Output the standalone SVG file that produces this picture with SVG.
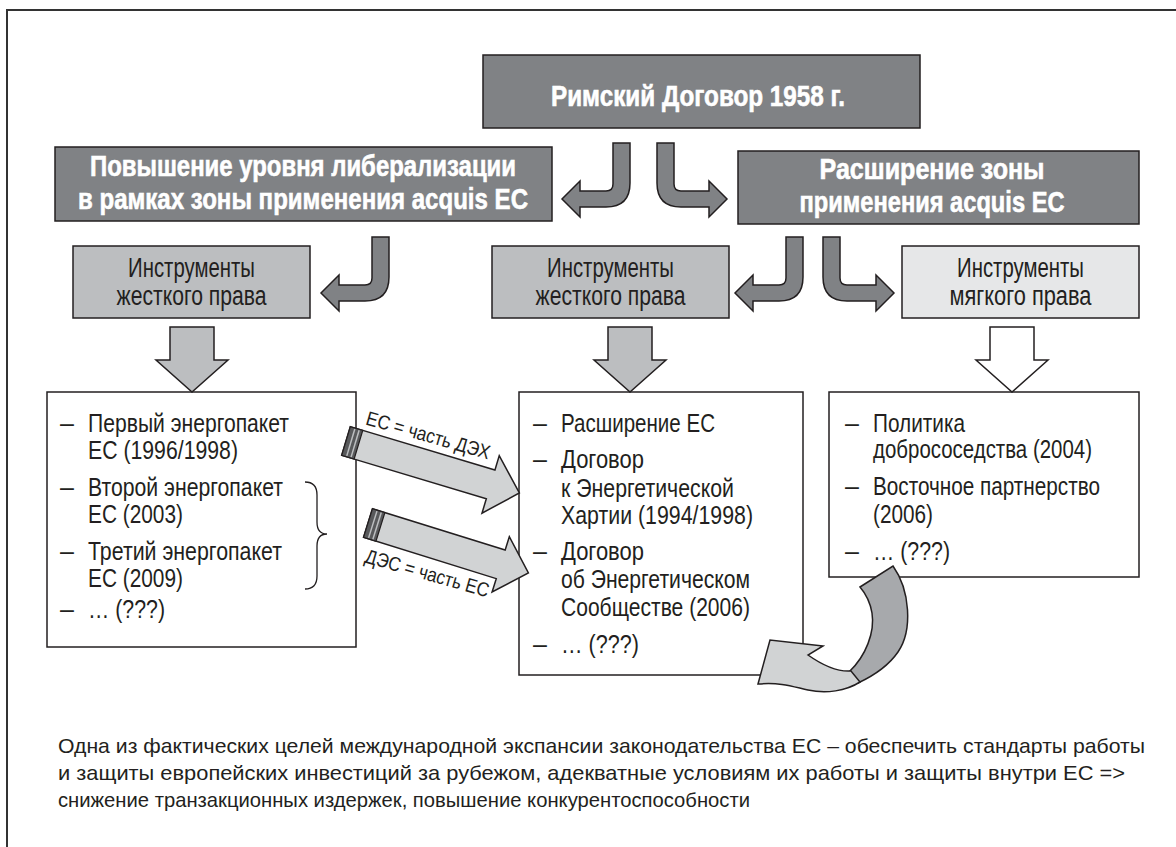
<svg xmlns="http://www.w3.org/2000/svg" width="1176" height="847" viewBox="0 0 1176 847">
<style>
.dark{fill:#808285;stroke:#231f20;stroke-width:1.5}
.gray{fill:#bcbec0;stroke:#231f20;stroke-width:1.5}
.light{fill:#e6e7e8;stroke:#231f20;stroke-width:1.5}
.white{fill:#ffffff;stroke:#231f20;stroke-width:1.5}
.arr{stroke:#231f20;stroke-width:1.5;stroke-linejoin:miter}
.hd{font-family:"Liberation Sans Narrow","Liberation Sans",Arial,sans-serif;font-weight:bold;font-size:29px;fill:#ffffff;stroke:#ffffff;stroke-width:0.6;text-anchor:middle}
.lb{font-family:"Liberation Sans Narrow","Liberation Sans",Arial,sans-serif;font-size:27px;fill:#231f20;text-anchor:middle}
.it{font-family:"Liberation Sans Narrow","Liberation Sans",Arial,sans-serif;font-size:25px;fill:#231f20}
.ft{font-family:"Liberation Sans Narrow","Liberation Sans",Arial,sans-serif;font-size:21px;fill:#231f20}
.al{font-family:"Liberation Sans Narrow","Liberation Sans",Arial,sans-serif;font-size:20px;fill:#231f20;text-anchor:middle}
</style>
<rect x="0" y="0" width="1176" height="847" fill="#ffffff"/>
<g id="frame" fill="none" stroke="#333333" stroke-width="2">
<line x1="6" y1="10" x2="1176" y2="10"/>
<line x1="7" y1="10" x2="7" y2="847"/>
</g>

<g id="n-rome">
<rect class="dark" x="483" y="55" width="437" height="73"/>
<text class="hd" x="698" y="106" textLength="294" lengthAdjust="spacingAndGlyphs">Римский Договор 1958 г.</text>
</g>
<g id="n-liberalization">
<rect class="dark" x="55" y="147" width="497" height="74"/>
<text class="hd" x="303" y="176" textLength="426" lengthAdjust="spacingAndGlyphs">Повышение уровня либерализации</text>
<text class="hd" x="303" y="209" textLength="450" lengthAdjust="spacingAndGlyphs">в рамках зоны применения acquis EC</text>
</g>
<g id="n-expansion">
<rect class="dark" x="738" y="151" width="401" height="73"/>
<text class="hd" x="932" y="179" textLength="225" lengthAdjust="spacingAndGlyphs">Расширение зоны</text>
<text class="hd" x="932" y="212" textLength="265" lengthAdjust="spacingAndGlyphs">применения acquis EC</text>
</g>
<g id="n-hard-left">
<rect class="gray" x="73" y="246" width="237" height="72"/>
<text class="lb" x="191.5" y="277" textLength="127" lengthAdjust="spacingAndGlyphs">Инструменты</text>
<text class="lb" x="191.5" y="305" textLength="150" lengthAdjust="spacingAndGlyphs">жесткого права</text>
</g>
<g id="n-hard-mid">
<rect class="gray" x="492" y="246" width="237" height="72"/>
<text class="lb" x="610.5" y="277" textLength="127" lengthAdjust="spacingAndGlyphs">Инструменты</text>
<text class="lb" x="610.5" y="305" textLength="150" lengthAdjust="spacingAndGlyphs">жесткого права</text>
</g>
<g id="n-soft">
<rect class="light" x="902" y="246" width="237" height="72"/>
<text class="lb" x="1020.5" y="277" textLength="127" lengthAdjust="spacingAndGlyphs">Инструменты</text>
<text class="lb" x="1020.5" y="305" textLength="142" lengthAdjust="spacingAndGlyphs">мягкого права</text>
</g>
<g id="n-list-left">
<rect class="white" x="47" y="392" width="309" height="255"/>
<path d="M305,482 C314,482 317,487 317,495 L317,522 C317,530 320,534 327,534 C320,534 317,538 317,546 L317,576 C317,584 314,589 305,589" fill="none" stroke="#231f20" stroke-width="1.3"/>
<text class="it" x="60" y="432">–</text>
<text class="it" x="88" y="432" textLength="201" lengthAdjust="spacingAndGlyphs">Первый энергопакет</text>
<text class="it" x="88" y="459" textLength="150" lengthAdjust="spacingAndGlyphs">ЕС (1996/1998)</text>
<text class="it" x="60" y="496">–</text>
<text class="it" x="88" y="496" textLength="195" lengthAdjust="spacingAndGlyphs">Второй энергопакет</text>
<text class="it" x="88" y="523" textLength="95" lengthAdjust="spacingAndGlyphs">ЕС (2003)</text>
<text class="it" x="60" y="560">–</text>
<text class="it" x="88" y="560" textLength="194" lengthAdjust="spacingAndGlyphs">Третий энергопакет</text>
<text class="it" x="88" y="587" textLength="95" lengthAdjust="spacingAndGlyphs">ЕС (2009)</text>
<text class="it" x="60" y="618">–</text>
<text class="it" x="88" y="618" textLength="77" lengthAdjust="spacingAndGlyphs">… (???)</text>
</g>
<g id="n-list-mid">
<rect class="white" x="519" y="392" width="284" height="283"/>
<text class="it" x="533" y="432">–</text>
<text class="it" x="561" y="432" textLength="154" lengthAdjust="spacingAndGlyphs">Расширение ЕС</text>
<text class="it" x="533" y="468">–</text>
<text class="it" x="561" y="468" textLength="83" lengthAdjust="spacingAndGlyphs">Договор</text>
<text class="it" x="561" y="497" textLength="173" lengthAdjust="spacingAndGlyphs">к Энергетической</text>
<text class="it" x="561" y="524" textLength="192" lengthAdjust="spacingAndGlyphs">Хартии (1994/1998)</text>
<text class="it" x="533" y="560">–</text>
<text class="it" x="561" y="560" textLength="83" lengthAdjust="spacingAndGlyphs">Договор</text>
<text class="it" x="561" y="588" textLength="189" lengthAdjust="spacingAndGlyphs">об Энергетическом</text>
<text class="it" x="561" y="616" textLength="189" lengthAdjust="spacingAndGlyphs">Сообществе (2006)</text>
<text class="it" x="533" y="653">–</text>
<text class="it" x="561" y="653" textLength="78" lengthAdjust="spacingAndGlyphs">… (???)</text>
</g>
<g id="n-list-right">
<rect class="white" x="829" y="392" width="310" height="185"/>
<text class="it" x="845" y="432">–</text>
<text class="it" x="873" y="432" textLength="92" lengthAdjust="spacingAndGlyphs">Политика</text>
<text class="it" x="873" y="458" textLength="219" lengthAdjust="spacingAndGlyphs">добрососедства (2004)</text>
<text class="it" x="845" y="495">–</text>
<text class="it" x="873" y="495" textLength="227" lengthAdjust="spacingAndGlyphs">Восточное партнерство</text>
<text class="it" x="873" y="523" textLength="60" lengthAdjust="spacingAndGlyphs">(2006)</text>
<text class="it" x="845" y="560">–</text>
<text class="it" x="873" y="560" textLength="77" lengthAdjust="spacingAndGlyphs">… (???)</text>
</g>

<g id="connectors">
<path class="arr" fill="#808285" d="M613,143 H630 V183 Q630,207 606,207 H580 V217 L562,199 L580,181 V191 H606 Q613,191 613,184 V143 Z"/>
<path class="arr" fill="#808285" d="M674,143 H657 V183 Q657,207 681,207 H709 V217 L727,199 L709,181 V191 H681 Q674,191 674,184 V143 Z"/>
<path class="arr" fill="#808285" d="M372,237 H389 V277 Q389,301 365,301 H339 V311 L321,293 L339,275 V285 H365 Q372,285 372,278 V237 Z"/>
<path class="arr" fill="#808285" d="M786,237 H803 V277 Q803,301 779,301 H753 V311 L735,293 L753,275 V285 H779 Q786,285 786,278 V237 Z"/>
<path class="arr" fill="#808285" d="M840,237 H823 V277 Q823,301 847,301 H876 V311 L894,293 L876,275 V285 H847 Q840,285 840,278 V237 Z"/>
<path class="arr" fill="#bcbec0" d="M170,327 H214 V360 H228 L192,392 L156,360 H170 Z"/>
<path class="arr" fill="#bcbec0" d="M608,327 H652 V360 H666 L630,392 L594,360 H608 Z"/>
<path class="arr" fill="#ffffff" d="M990,327 H1034 V360 H1048 L1012,392 L976,360 H990 Z"/>
<g transform="translate(346,441) rotate(16.7)">
<path class="arr" fill="#d1d3d4" d="M0,-15 H151 V-30 L181,0 L151,30 V15 H0 Z"/>
<rect x="0" y="-15" width="13" height="30" fill="#58595b" stroke="#231f20" stroke-width="1.2"/>
<line x1="5" y1="-14" x2="5" y2="14" stroke="#bcbec0" stroke-width="1.5"/>
<line x1="9.5" y1="-14" x2="9.5" y2="14" stroke="#bcbec0" stroke-width="1.5"/>
</g>
<g transform="translate(368,523) rotate(17.3)">
<path class="arr" fill="#d1d3d4" d="M0,-15 H139 V-29 L168,0 L139,29 V15 H0 Z"/>
<rect x="0" y="-15" width="13" height="30" fill="#58595b" stroke="#231f20" stroke-width="1.2"/>
<line x1="5" y1="-14" x2="5" y2="14" stroke="#bcbec0" stroke-width="1.5"/>
<line x1="9.5" y1="-14" x2="9.5" y2="14" stroke="#bcbec0" stroke-width="1.5"/>
</g>
<text class="al" transform="translate(428,436) rotate(16)" x="0" y="6" textLength="128" lengthAdjust="spacingAndGlyphs">ЕС = часть ДЭХ</text>
<text class="al" transform="translate(427,574) rotate(16)" x="0" y="6" textLength="128" lengthAdjust="spacingAndGlyphs">ДЭС = часть ЕС</text>
<path class="arr" fill="#a7a9ac" d="M860,587 L893,566 C910,590 913,630 898,652 C889,665 873,676 858,683 L849,672 C866,656 875,632 872,613 C870,601 866,594 860,587 Z"/>
<path class="arr" fill="#d1d3d4" d="M758,684 L770,640 L823,646 L808,655 C825,667 838,672 851,671 L860,682 C846,691 826,694 808,690 C794,687 782,682 758,684 Z"/>
</g>

<g id="footer-text">
<text class="ft" x="58" y="753" textLength="1087" lengthAdjust="spacingAndGlyphs">Одна из фактических целей международной экспансии законодательства ЕС – обеспечить стандарты работы</text>
<text class="ft" x="58" y="780" textLength="1067" lengthAdjust="spacingAndGlyphs">и защиты европейских инвестиций за рубежом, адекватные условиям их работы и защиты внутри ЕС =&gt;</text>
<text class="ft" x="58" y="807" textLength="692" lengthAdjust="spacingAndGlyphs">снижение транзакционных издержек, повышение конкурентоспособности</text>
</g>
</svg>
